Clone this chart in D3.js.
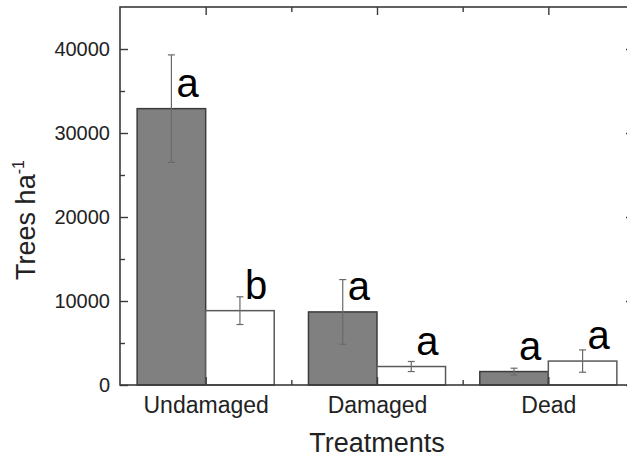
<!DOCTYPE html>
<html>
<head>
<meta charset="utf-8">
<script src="https://cdn.jsdelivr.net/npm/d3@7"></script>
<style>
  body { margin: 0; background: #fff; }
  svg { font-family: "Liberation Sans", Arial, sans-serif; }
</style>
</head>
<body>
<div id="chart"></div>
<script>
// treatments on the x axis
let categories = ["Undamaged", "Damaged", "Dead"];
// two series per treatment (grey and white bars)
let seriesNames = ["grey", "white"];
let greyValues = [32900, 8700, 1600];
let whiteValues = [8850, 2200, 2850];
let greyErrors = [6400, 3850, 400];
let whiteErrors = [1650, 600, 1330];
let greyLetters = ["a", "a", "a"];
let whiteLetters = ["b", "a", "a"];
let yTicks = [0, 10000, 20000, 30000, 40000];
let yMinorTicks = [5000, 15000, 25000, 35000];

const width = 627, height = 458;
const margin = {top: 7, left: 120, bottom: 73, plotWidth: 514};
const innerHeight = height - margin.top - margin.bottom;
const right = margin.left + margin.plotWidth;
const bottom = margin.top + innerHeight;

const fills = {grey: "#808080", white: "#ffffff"};
const strokes = {grey: "#3c3c3c", white: "#5a5a5a"};

let rows = [];
categories.forEach((c, i) => {
    rows.push({cat: c, s: "grey", v: greyValues[i], e: greyErrors[i], l: greyLetters[i]});
    rows.push({cat: c, s: "white", v: whiteValues[i], e: whiteErrors[i], l: whiteLetters[i]});
});

let svg = d3.select("#chart").append("svg")
    .attr("width", width)
    .attr("height", height);

// the right part of the frame runs past the picture edge, clip it
svg.append("clipPath").attr("id", "view")
    .append("rect").attr("width", width).attr("height", height);
let plot = svg.append("g").attr("clip-path", "url(#view)");

let x0 = d3.scaleBand()
    .domain(categories)
    .range([margin.left, right]);

let x1 = d3.scaleBand()
    .domain(seriesNames)
    .range([x0.bandwidth() * 0.1, x0.bandwidth() * 0.9]);

let y = d3.scaleLinear()
    .domain([0, 45000])
    .range([bottom, margin.top]);

// bars
plot.selectAll(".bar").data(rows).enter().append("rect")
    .attr("class", "bar")
    .attr("x", d => x0(d.cat) + x1(d.s))
    .attr("y", d => y(d.v))
    .attr("width", x1.bandwidth())
    .attr("height", d => y(0) - y(d.v))
    .attr("fill", d => fills[d.s])
    .attr("stroke", d => strokes[d.s])
    .attr("stroke-width", 1.5);

// error bars
let cx = d => x0(d.cat) + x1(d.s) + x1.bandwidth() / 2;
let err = plot.selectAll(".err").data(rows).enter().append("g")
    .attr("class", "err")
    .attr("stroke", "#6a6a6a")
    .attr("stroke-width", 1.2);
err.append("line")
    .attr("x1", cx).attr("x2", cx)
    .attr("y1", d => y(d.v + d.e)).attr("y2", d => y(d.v - d.e));
err.append("line")
    .attr("x1", d => cx(d) - 3.5).attr("x2", d => cx(d) + 3.5)
    .attr("y1", d => y(d.v + d.e)).attr("y2", d => y(d.v + d.e));
err.append("line")
    .attr("x1", d => cx(d) - 3.5).attr("x2", d => cx(d) + 3.5)
    .attr("y1", d => y(d.v - d.e)).attr("y2", d => y(d.v - d.e));

// significance letters
svg.selectAll(".letter").data(rows).enter().append("text")
    .attr("class", "letter")
    .attr("x", d => cx(d) + 5)
    .attr("y", d => y(d.v) - 12)
    .attr("font-size", 40)
    .attr("fill", "#000")
    .text(d => d.l);

// frame
plot.append("rect")
    .attr("x", margin.left).attr("y", margin.top)
    .attr("width", margin.plotWidth).attr("height", innerHeight)
    .attr("fill", "none")
    .attr("stroke", "#3a3a3a")
    .attr("stroke-width", 1.6);

// axes
function styleAxis(g) {
    g.select(".domain").remove();
    g.selectAll(".tick line").attr("stroke", "#3a3a3a").attr("stroke-width", 1.4);
}
// tick marks only, no labels
function ticksOnly(g) {
    styleAxis(g);
    g.selectAll(".tick text").remove();
}

let midpoints = [x0(categories[1]), x0(categories[2])];

svg.append("g")
    .attr("transform", "translate(" + margin.left + ",0)")
    .call(d3.axisLeft(y).tickValues(yTicks).tickSize(-8).tickPadding(10).tickFormat(d3.format("d")))
    .call(styleAxis)
    .call(g => g.selectAll("text").attr("font-size", 20).attr("fill", "#222")
        .attr("font-family", "Liberation Sans, Arial, sans-serif"));
svg.append("g")
    .attr("transform", "translate(" + margin.left + ",0)")
    .call(d3.axisLeft(y).tickValues(yMinorTicks).tickSize(-5))
    .call(ticksOnly);

plot.append("g")
    .attr("transform", "translate(" + right + ",0)")
    .call(d3.axisRight(y).tickValues(yTicks).tickSize(-8))
    .call(ticksOnly);
plot.append("g")
    .attr("transform", "translate(" + right + ",0)")
    .call(d3.axisRight(y).tickValues(yMinorTicks).tickSize(-5))
    .call(ticksOnly);

let xCenter = d3.scalePoint().domain(categories).range([x0(categories[0]) + x0.bandwidth() / 2, x0(categories[2]) + x0.bandwidth() / 2]);
let xMinor = d3.scaleIdentity();

svg.append("g")
    .attr("transform", "translate(0," + bottom + ")")
    .call(d3.axisBottom(xCenter).tickSize(-8).tickPadding(12))
    .call(styleAxis)
    .call(g => g.selectAll("text").attr("font-size", 23).attr("fill", "#222")
        .attr("font-family", "Liberation Sans, Arial, sans-serif"));
svg.append("g")
    .attr("transform", "translate(0," + bottom + ")")
    .call(d3.axisBottom(xMinor).tickValues(midpoints).tickSize(-5))
    .call(ticksOnly);

svg.append("g")
    .attr("transform", "translate(0," + margin.top + ")")
    .call(d3.axisTop(xCenter).tickSize(-8))
    .call(ticksOnly);
svg.append("g")
    .attr("transform", "translate(0," + margin.top + ")")
    .call(d3.axisTop(xMinor).tickValues(midpoints).tickSize(-5))
    .call(ticksOnly);

// axis titles
svg.append("text")
    .attr("x", (margin.left + right) / 2)
    .attr("y", 452)
    .attr("text-anchor", "middle")
    .attr("font-size", 27)
    .attr("fill", "#222")
    .text("Treatments");

let yTitle = svg.append("text")
    .attr("transform", "translate(35,220) rotate(-90)")
    .attr("text-anchor", "middle")
    .attr("font-size", 27)
    .attr("fill", "#222");
yTitle.append("tspan").text("Trees ha");
yTitle.append("tspan").attr("dy", -11).attr("font-size", 16).text("-1");
</script>
</body>
</html>
